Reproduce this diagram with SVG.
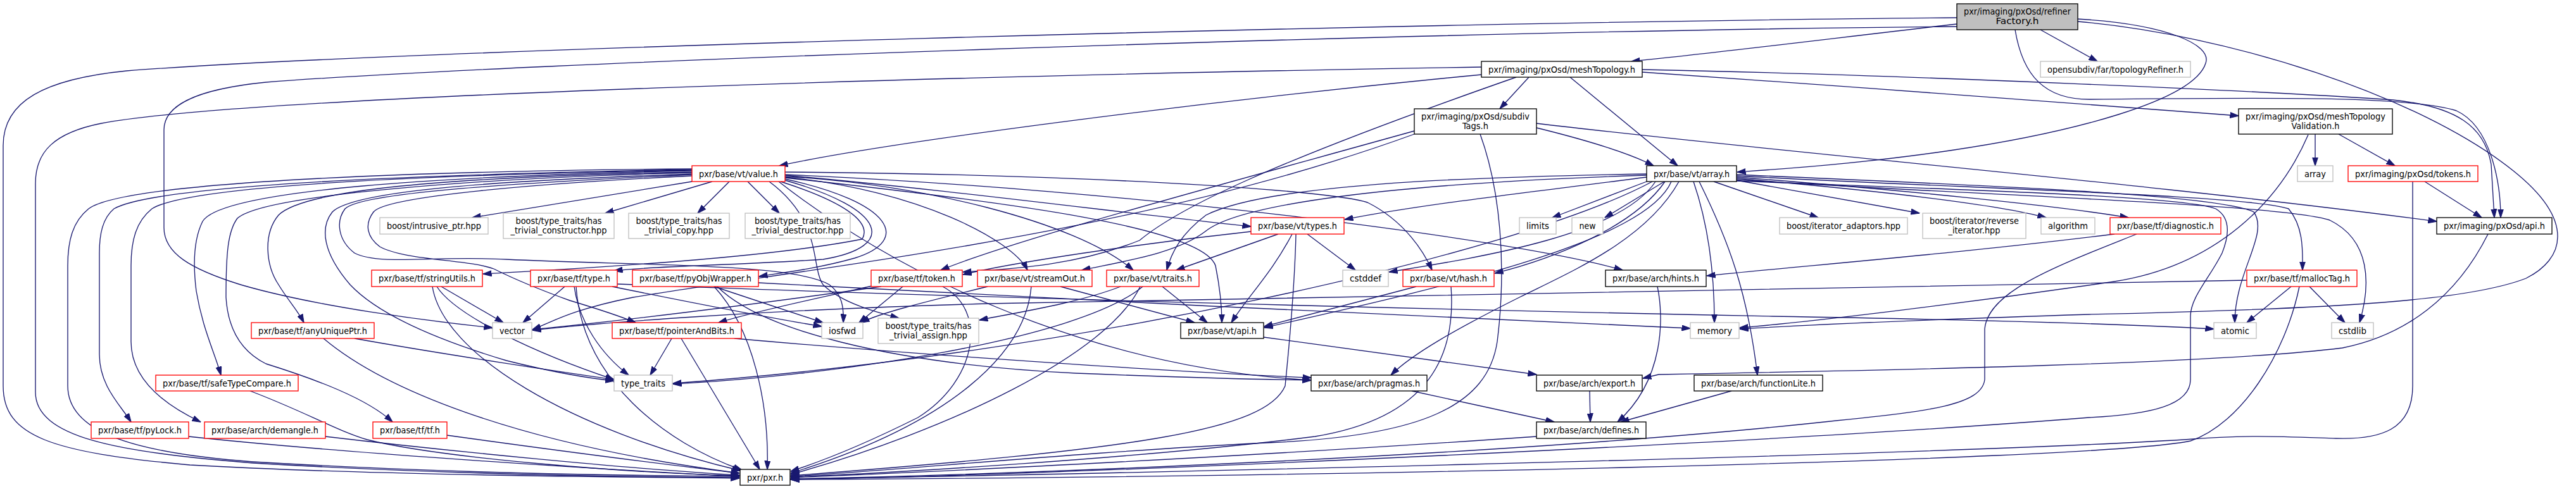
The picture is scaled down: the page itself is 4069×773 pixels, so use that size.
<svg xmlns="http://www.w3.org/2000/svg" width="4069" height="773" viewBox="0 0 4069 773">
<style>
.node rect{fill:#fff;stroke:#000;stroke-width:1.33}
.node.red rect{stroke:#f00}
.node.ext rect{stroke:#bfbfbf}
.node.root rect{fill:#bfbfbf}
.node text{font-family:"DejaVu Sans Condensed","DejaVu Sans","Liberation Sans",sans-serif;font-size:13.3px;text-anchor:middle;fill:#000}
#edges path{fill:none;stroke:#191970;stroke-width:1.33;marker-end:url(#arr)}
</style>
<defs>
<marker id="arr" markerUnits="userSpaceOnUse" markerWidth="14" markerHeight="10" viewBox="0 0 14 10" refX="13.5" refY="5" orient="auto"><path d="M0,0.5 L14,5 L0,9.5 z" fill="#191970" stroke="#191970" stroke-width="1"/></marker>
</defs>
<rect width="4069" height="773" fill="#fff"/>
<g id="edges">
<path d="M3091,38 C2900,60 2700,85 2577,97"/>
<path d="M3223,47 L3313,97"/>
<path d="M3183,47 C3195,120 3230,157 3300,157 C3550,155 3800,150 3880,175 C3935,200 3950,290 3950,344"/>
<path d="M3282,30 C3420,38 3495,70 3484,100 C3465,160 3270,210 3080,238 C2930,260 2800,268 2744,272"/>
<path d="M3282,34 C3520,55 3820,150 3970,270 C4070,350 4050,410 3990,440 C3900,475 3700,488 3300,497 C3050,505 2850,514 2748,520"/>
<path d="M3091,28 C2200,35 600,80 200,112 C70,125 5,160 5,230 L5,610 C5,690 80,715 300,735 C600,752 1000,754 1168,756"/>
<path d="M3091,42 C2200,50 800,100 420,130 C300,142 259,170 259,205 L259,360 C259,400 300,425 380,450 C500,485 680,508 778,518"/>
<path d="M2340,118 C1900,160 1400,225 1231,262"/>
<path d="M2340,106 C1600,118 400,150 160,195 C85,210 56,240 56,290 L56,620 C56,690 180,715 400,732 C700,750 1000,754 1168,755"/>
<path d="M2415,122 L2369,172"/>
<path d="M2480,122 L2650,262"/>
<path d="M2594,114 C2900,135 3300,165 3536,183"/>
<path d="M2594,110 C3000,118 3600,145 3780,158 C3880,168 3925,200 3935,260 L3940,344"/>
<path d="M2395,122 C2000,260 1860,330 1800,380 C1700,420 1600,425 1521,430"/>
<path d="M2427,202 C2500,220 2570,240 2612,262"/>
<path d="M2234,207 C1900,300 1600,380 1486,427"/>
<path d="M2234,212 C1800,370 1300,420 1000,470 C900,490 870,510 841,521"/>
<path d="M2338,212 C2370,300 2380,420 2365,540 C2350,640 2250,690 2000,700 C1700,715 1400,745 1249,753"/>
<path d="M2427,195 C2800,240 3400,290 3849,350"/>
<path d="M3657,212 L3657,262"/>
<path d="M3694,212 L3783,262"/>
<path d="M3646,213 C3600,320 3500,420 3340,445 C3100,480 2850,510 2748,518"/>
<path d="M3830,287 L3920,344"/>
<path d="M3811,287 L3811,610 C3811,680 3760,695 3690,693 C3600,690 3550,687 3450,695 C3000,722 1600,752 1249,757"/>
<path d="M3930,370 C3880,470 3800,530 3700,550 C3500,575 3000,585 2620,592 L2595,598"/>
<path d="M2601,287 L2452,344"/>
<path d="M2629,287 L2535,344"/>
<path d="M2707,287 L2872,344"/>
<path d="M2743,285 L3032,337"/>
<path d="M2743,282 C2950,300 3150,322 3232,344"/>
<path d="M2743,280 C3000,300 3250,325 3362,344"/>
<path d="M2743,278 C3100,298 3550,308 3615,330 C3640,360 3637,400 3637,427"/>
<path d="M2743,276 C3100,292 3500,306 3560,335 C3585,370 3530,430 3530,510"/>
<path d="M2743,284 C3100,308 3600,322 3680,348 C3745,380 3745,450 3727,510"/>
<path d="M2743,286 C3100,300 3450,310 3500,330 C3525,345 3520,375 3510,400 C3490,440 3460,470 3460,500 L3460,600 C3460,640 3400,655 3300,660 C2800,700 1700,750 1249,758"/>
<path d="M2675,287 C2700,360 2708,440 2708,510"/>
<path d="M2684,287 C2730,380 2760,460 2776,593"/>
<path d="M2601,280 C2450,300 2250,322 2124,347"/>
<path d="M2630,287 C2580,360 2450,410 2361,432"/>
<path d="M2615,287 C2560,370 2350,405 2194,430"/>
<path d="M2601,275 C2300,280 2000,292 1905,340 C1865,370 1850,400 1843,427"/>
<path d="M2601,277 C2200,290 1960,322 1905,365 C1860,400 1780,412 1709,427"/>
<path d="M2640,287 C2600,380 2300,450 1997,518"/>
<path d="M2652,287 C2600,380 2480,430 2400,470 C2300,520 2230,560 2197,593"/>
<path d="M2610,287 C2400,400 1700,560 1063,606"/>
<path d="M1093,287 L746,344"/>
<path d="M1125,287 L956,337"/>
<path d="M1152,287 L1102,337"/>
<path d="M1181,287 L1231,337"/>
<path d="M1233,287 C1330,318 1378,350 1362,378 C1200,410 900,425 763,433"/>
<path d="M1240,285 C1400,330 1420,390 1300,410 C1150,420 1040,420 970,428"/>
<path d="M1240,283 C1410,320 1440,380 1350,408 C1290,425 1230,432 1199,437"/>
<path d="M1240,280 C1450,300 1600,380 1623,427"/>
<path d="M1240,279 C1450,290 1700,350 1790,427"/>
<path d="M1240,277 C1500,300 1800,340 1976,358"/>
<path d="M1240,272 C1700,275 2100,300 2160,320 C2220,350 2250,400 2262,427"/>
<path d="M1240,276 C1800,300 2400,380 2563,427"/>
<path d="M1240,281 C1600,320 1900,360 1920,420 C1928,460 1930,490 1930,510"/>
<path d="M1230,287 C1400,420 1700,580 2071,601"/>
<path d="M1093,272 C700,280 480,300 440,340 C415,370 420,420 440,450 C455,475 470,490 480,510"/>
<path d="M1093,270 C700,278 350,300 320,350 C305,380 305,420 310,460 C320,520 340,560 349,593"/>
<path d="M1093,268 C700,275 250,290 180,330 C162,345 157,370 157,400 L157,560 C157,610 190,640 207,667"/>
<path d="M1093,269 C700,276 300,292 240,330 C215,350 207,380 207,420 L207,540 C207,600 260,640 317,667"/>
<path d="M1093,273 C800,280 420,305 375,345 C360,365 357,400 357,470 C360,520 380,555 420,575 C500,600 580,630 620,667"/>
<path d="M1093,267 C700,270 200,285 140,330 C115,350 107,380 107,420 L107,610 C107,680 200,715 400,730 C700,748 1000,752 1168,753"/>
<path d="M1093,275 C800,285 560,300 525,335 C505,360 510,400 553,450 C600,500 700,540 800,570 C880,590 930,598 970,602"/>
<path d="M1093,276 C800,290 570,305 545,330 C530,350 534,380 560,400 C600,420 680,404 800,410 C1000,420 1250,415 1310,450 C1330,465 1333,485 1332,510"/>
<path d="M1093,278 C850,290 610,310 590,335 C575,355 580,375 600,390 C640,412 740,410 780,425 C810,440 850,457 900,475 C950,490 980,500 1004,510"/>
<path d="M1215,287 C1300,350 1280,420 1300,450 C1330,480 1390,495 1420,503"/>
<path d="M697,453 L795,510"/>
<path d="M690,453 C720,500 850,560 970,600"/>
<path d="M683,453 C700,560 900,680 1170,744"/>
<path d="M892,453 L826,510"/>
<path d="M907,453 C915,510 950,560 993,593"/>
<path d="M910,453 C920,600 1050,700 1172,743"/>
<path d="M967,453 C1100,480 1200,500 1298,516"/>
<path d="M975,449 C1500,470 2300,490 2800,500 C3100,505 3350,512 3497,520"/>
<path d="M1128,453 L1300,510"/>
<path d="M1128,453 C1190,520 1215,640 1212,742"/>
<path d="M1133,453 C1200,520 1400,575 1700,590 C1900,598 2000,600 2071,601"/>
<path d="M1198,447 C1600,468 2300,505 2670,519"/>
<path d="M1061,535 L1027,593"/>
<path d="M1076,535 L1200,742"/>
<path d="M1160,535 C1500,565 1900,590 2071,597"/>
<path d="M1392,453 C1200,480 1000,505 841,521"/>
<path d="M1426,453 L1357,510"/>
<path d="M1386,450 C1300,470 1200,490 1135,510"/>
<path d="M1489,453 C1560,490 1545,600 1450,660 C1350,710 1280,735 1249,745"/>
<path d="M1675,453 L1887,510"/>
<path d="M1560,453 C1450,480 1390,495 1360,510"/>
<path d="M1629,453 C1620,560 1500,670 1249,748"/>
<path d="M1836,453 L1907,510"/>
<path d="M1801,453 C1750,560 1500,680 1249,750"/>
<path d="M1805,453 C1700,540 1300,595 1063,607"/>
<path d="M1770,453 C1700,480 1600,495 1547,506"/>
<path d="M2019,370 L1858,427"/>
<path d="M2041,370 C2010,430 1970,470 1945,510"/>
<path d="M2065,370 L2141,427"/>
<path d="M2047,370 C2045,460 2035,560 2030,610 C2000,680 1800,710 1249,752"/>
<path d="M1976,366 C1800,385 1600,415 1521,434"/>
<path d="M2237,453 L1997,516"/>
<path d="M2292,453 C2300,560 2260,660 2077,690 C1800,725 1400,748 1249,754"/>
<path d="M2618,453 C2628,500 2630,600 2555,667"/>
<path d="M1996,533 L2427,592"/>
<path d="M2230,618 L2455,667"/>
<path d="M2511,618 L2512,667"/>
<path d="M2735,618 L2560,667"/>
<path d="M2427,690 C2000,720 1500,745 1249,755"/>
<path d="M3340,370 C3100,400 2850,420 2696,436"/>
<path d="M3375,370 C3250,420 3140,460 3135,520 L3135,600 C3130,640 3050,650 2900,665 C2400,720 1600,750 1249,757"/>
<path d="M3549,443 C3000,455 2000,470 1560,480 C1200,490 950,510 841,522"/>
<path d="M3619,453 L3549,510"/>
<path d="M3648,453 L3704,510"/>
<path d="M3632,453 C3610,560 3540,670 3460,697 C3300,730 2000,755 1249,758"/>
<path d="M560,535 C700,560 900,590 970,600"/>
<path d="M511,535 C600,610 800,700 1168,748"/>
<path d="M395,618 C480,650 530,680 580,695 C700,725 1000,748 1168,752"/>
<path d="M298,690 C500,712 900,740 1168,753"/>
<path d="M514,690 C700,712 1000,742 1168,751"/>
<path d="M706,688 C900,715 1100,740 1168,748"/>
</g>
<g id="n-refinerFactory" class="node root"><rect x="3091" y="6" width="191" height="41"/><text x="3186.5" y="23" textLength="169" lengthAdjust="spacingAndGlyphs">pxr/imaging/pxOsd/refiner</text><text x="3186.5" y="38" textLength="68" lengthAdjust="spacingAndGlyphs">Factory.h</text></g>
<g id="n-meshTopology" class="node"><rect x="2340" y="97" width="254" height="25"/><text x="2467" y="114.5" textLength="232" lengthAdjust="spacingAndGlyphs">pxr/imaging/pxOsd/meshTopology.h</text></g>
<g id="n-topologyRefiner" class="node ext"><rect x="3223" y="97" width="237" height="25"/><text x="3341.5" y="114.5" textLength="215" lengthAdjust="spacingAndGlyphs">opensubdiv/far/topologyRefiner.h</text></g>
<g id="n-subdivTags" class="node"><rect x="2234" y="172" width="193" height="40"/><text x="2330.5" y="188.5" textLength="171" lengthAdjust="spacingAndGlyphs">pxr/imaging/pxOsd/subdiv</text><text x="2330.5" y="203.5" textLength="41" lengthAdjust="spacingAndGlyphs">Tags.h</text></g>
<g id="n-meshTopologyValidation" class="node"><rect x="3536" y="172" width="243" height="40"/><text x="3657.5" y="188.5" textLength="221" lengthAdjust="spacingAndGlyphs">pxr/imaging/pxOsd/meshTopology</text><text x="3657.5" y="203.5" textLength="76" lengthAdjust="spacingAndGlyphs">Validation.h</text></g>
<g id="n-value" class="node red"><rect x="1093" y="262" width="147" height="25"/><text x="1166.5" y="279.5" textLength="125" lengthAdjust="spacingAndGlyphs">pxr/base/vt/value.h</text></g>
<g id="n-vtArray" class="node"><rect x="2601" y="262" width="142" height="25"/><text x="2672" y="279.5" textLength="120" lengthAdjust="spacingAndGlyphs">pxr/base/vt/array.h</text></g>
<g id="n-stdArray" class="node ext"><rect x="3629" y="262" width="56" height="25"/><text x="3657" y="279.5" textLength="34" lengthAdjust="spacingAndGlyphs">array</text></g>
<g id="n-tokens" class="node red"><rect x="3709" y="262" width="205" height="25"/><text x="3811.5" y="279.5" textLength="183" lengthAdjust="spacingAndGlyphs">pxr/imaging/pxOsd/tokens.h</text></g>
<g id="n-intrusivePtr" class="node ext"><rect x="600" y="344" width="171" height="26"/><text x="685.5" y="361.5" textLength="149" lengthAdjust="spacingAndGlyphs">boost/intrusive_ptr.hpp</text></g>
<g id="n-hasTrivialConstructor" class="node ext"><rect x="795" y="337" width="175" height="40"/><text x="882.5" y="353.5" textLength="136" lengthAdjust="spacingAndGlyphs">boost/type_traits/has</text><text x="882.5" y="368.5" textLength="152" lengthAdjust="spacingAndGlyphs">_trivial_constructor.hpp</text></g>
<g id="n-hasTrivialCopy" class="node ext"><rect x="993" y="337" width="159" height="40"/><text x="1072.5" y="353.5" textLength="136" lengthAdjust="spacingAndGlyphs">boost/type_traits/has</text><text x="1072.5" y="368.5" textLength="109" lengthAdjust="spacingAndGlyphs">_trivial_copy.hpp</text></g>
<g id="n-hasTrivialDestructor" class="node ext"><rect x="1177" y="337" width="166" height="40"/><text x="1260" y="353.5" textLength="136" lengthAdjust="spacingAndGlyphs">boost/type_traits/has</text><text x="1260" y="368.5" textLength="145" lengthAdjust="spacingAndGlyphs">_trivial_destructor.hpp</text></g>
<g id="n-types" class="node red"><rect x="1976" y="344" width="147" height="26"/><text x="2049.5" y="361.5" textLength="125" lengthAdjust="spacingAndGlyphs">pxr/base/vt/types.h</text></g>
<g id="n-limits" class="node ext"><rect x="2400" y="344" width="58" height="26"/><text x="2429" y="361.5" textLength="36" lengthAdjust="spacingAndGlyphs">limits</text></g>
<g id="n-new" class="node ext"><rect x="2483" y="344" width="49" height="26"/><text x="2507.5" y="361.5" textLength="26" lengthAdjust="spacingAndGlyphs">new</text></g>
<g id="n-iteratorAdaptors" class="node ext"><rect x="2811" y="344" width="202" height="26"/><text x="2912" y="361.5" textLength="180" lengthAdjust="spacingAndGlyphs">boost/iterator_adaptors.hpp</text></g>
<g id="n-reverseIterator" class="node ext"><rect x="3037" y="337" width="163" height="40"/><text x="3118.5" y="353.5" textLength="141" lengthAdjust="spacingAndGlyphs">boost/iterator/reverse</text><text x="3118.5" y="368.5" textLength="82" lengthAdjust="spacingAndGlyphs">_iterator.hpp</text></g>
<g id="n-algorithm" class="node ext"><rect x="3224" y="344" width="85" height="26"/><text x="3266.5" y="361.5" textLength="63" lengthAdjust="spacingAndGlyphs">algorithm</text></g>
<g id="n-diagnostic" class="node red"><rect x="3333" y="344" width="175" height="26"/><text x="3420.5" y="361.5" textLength="153" lengthAdjust="spacingAndGlyphs">pxr/base/tf/diagnostic.h</text></g>
<g id="n-pxOsdApi" class="node"><rect x="3849" y="344" width="182" height="26"/><text x="3940" y="361.5" textLength="160" lengthAdjust="spacingAndGlyphs">pxr/imaging/pxOsd/api.h</text></g>
<g id="n-stringUtils" class="node red"><rect x="587" y="427" width="175" height="26"/><text x="674.5" y="444.5" textLength="153" lengthAdjust="spacingAndGlyphs">pxr/base/tf/stringUtils.h</text></g>
<g id="n-tfType" class="node red"><rect x="838" y="427" width="137" height="26"/><text x="906.5" y="444.5" textLength="115" lengthAdjust="spacingAndGlyphs">pxr/base/tf/type.h</text></g>
<g id="n-pyObjWrapper" class="node red"><rect x="999" y="427" width="199" height="26"/><text x="1098.5" y="444.5" textLength="177" lengthAdjust="spacingAndGlyphs">pxr/base/tf/pyObjWrapper.h</text></g>
<g id="n-tfToken" class="node red"><rect x="1376" y="427" width="144" height="26"/><text x="1448" y="444.5" textLength="122" lengthAdjust="spacingAndGlyphs">pxr/base/tf/token.h</text></g>
<g id="n-streamOut" class="node red"><rect x="1544" y="427" width="181" height="26"/><text x="1634.5" y="444.5" textLength="159" lengthAdjust="spacingAndGlyphs">pxr/base/vt/streamOut.h</text></g>
<g id="n-traits" class="node red"><rect x="1748" y="427" width="146" height="26"/><text x="1821" y="444.5" textLength="124" lengthAdjust="spacingAndGlyphs">pxr/base/vt/traits.h</text></g>
<g id="n-cstddef" class="node ext"><rect x="2121" y="427" width="72" height="26"/><text x="2157" y="444.5" textLength="50" lengthAdjust="spacingAndGlyphs">cstddef</text></g>
<g id="n-hash" class="node red"><rect x="2216" y="427" width="144" height="26"/><text x="2288" y="444.5" textLength="122" lengthAdjust="spacingAndGlyphs">pxr/base/vt/hash.h</text></g>
<g id="n-hints" class="node"><rect x="2536" y="427" width="159" height="26"/><text x="2615.5" y="444.5" textLength="137" lengthAdjust="spacingAndGlyphs">pxr/base/arch/hints.h</text></g>
<g id="n-mallocTag" class="node red"><rect x="3549" y="427" width="174" height="26"/><text x="3636" y="444.5" textLength="152" lengthAdjust="spacingAndGlyphs">pxr/base/tf/mallocTag.h</text></g>
<g id="n-anyUniquePtr" class="node red"><rect x="397" y="510" width="194" height="25"/><text x="494" y="527.5" textLength="172" lengthAdjust="spacingAndGlyphs">pxr/base/tf/anyUniquePtr.h</text></g>
<g id="n-vector" class="node ext"><rect x="778" y="510" width="62" height="25"/><text x="809" y="527.5" textLength="40" lengthAdjust="spacingAndGlyphs">vector</text></g>
<g id="n-pointerAndBits" class="node red"><rect x="967" y="510" width="204" height="25"/><text x="1069" y="527.5" textLength="182" lengthAdjust="spacingAndGlyphs">pxr/base/tf/pointerAndBits.h</text></g>
<g id="n-iosfwd" class="node ext"><rect x="1298" y="510" width="65" height="25"/><text x="1330.5" y="527.5" textLength="43" lengthAdjust="spacingAndGlyphs">iosfwd</text></g>
<g id="n-hasTrivialAssign" class="node ext"><rect x="1387" y="503" width="159" height="40"/><text x="1466.5" y="519.5" textLength="136" lengthAdjust="spacingAndGlyphs">boost/type_traits/has</text><text x="1466.5" y="534.5" textLength="123" lengthAdjust="spacingAndGlyphs">_trivial_assign.hpp</text></g>
<g id="n-vtApi" class="node"><rect x="1865" y="510" width="131" height="25"/><text x="1930.5" y="527.5" textLength="109" lengthAdjust="spacingAndGlyphs">pxr/base/vt/api.h</text></g>
<g id="n-memory" class="node ext"><rect x="2670" y="510" width="77" height="25"/><text x="2708.5" y="527.5" textLength="55" lengthAdjust="spacingAndGlyphs">memory</text></g>
<g id="n-atomic" class="node ext"><rect x="3497" y="510" width="67" height="25"/><text x="3530.5" y="527.5" textLength="45" lengthAdjust="spacingAndGlyphs">atomic</text></g>
<g id="n-cstdlib" class="node ext"><rect x="3683" y="510" width="66" height="25"/><text x="3716" y="527.5" textLength="44" lengthAdjust="spacingAndGlyphs">cstdlib</text></g>
<g id="n-safeTypeCompare" class="node red"><rect x="246" y="593" width="225" height="25"/><text x="358.5" y="610.5" textLength="203" lengthAdjust="spacingAndGlyphs">pxr/base/tf/safeTypeCompare.h</text></g>
<g id="n-typeTraits" class="node ext"><rect x="970" y="593" width="92" height="25"/><text x="1016" y="610.5" textLength="70" lengthAdjust="spacingAndGlyphs">type_traits</text></g>
<g id="n-pragmas" class="node"><rect x="2071" y="593" width="183" height="25"/><text x="2162.5" y="610.5" textLength="161" lengthAdjust="spacingAndGlyphs">pxr/base/arch/pragmas.h</text></g>
<g id="n-export" class="node"><rect x="2427" y="593" width="167" height="25"/><text x="2510.5" y="610.5" textLength="145" lengthAdjust="spacingAndGlyphs">pxr/base/arch/export.h</text></g>
<g id="n-functionLite" class="node"><rect x="2676" y="593" width="203" height="25"/><text x="2777.5" y="610.5" textLength="181" lengthAdjust="spacingAndGlyphs">pxr/base/arch/functionLite.h</text></g>
<g id="n-pyLock" class="node red"><rect x="144" y="667" width="154" height="26"/><text x="221" y="684.5" textLength="132" lengthAdjust="spacingAndGlyphs">pxr/base/tf/pyLock.h</text></g>
<g id="n-demangle" class="node red"><rect x="323" y="667" width="191" height="26"/><text x="418.5" y="684.5" textLength="169" lengthAdjust="spacingAndGlyphs">pxr/base/arch/demangle.h</text></g>
<g id="n-tf" class="node red"><rect x="589" y="667" width="117" height="26"/><text x="647.5" y="684.5" textLength="95" lengthAdjust="spacingAndGlyphs">pxr/base/tf/tf.h</text></g>
<g id="n-defines" class="node"><rect x="2427" y="667" width="173" height="26"/><text x="2513.5" y="684.5" textLength="151" lengthAdjust="spacingAndGlyphs">pxr/base/arch/defines.h</text></g>
<g id="n-pxr" class="node"><rect x="1169" y="742" width="79" height="25"/><text x="1208.5" y="759.5" textLength="57" lengthAdjust="spacingAndGlyphs">pxr/pxr.h</text></g>
</svg>
